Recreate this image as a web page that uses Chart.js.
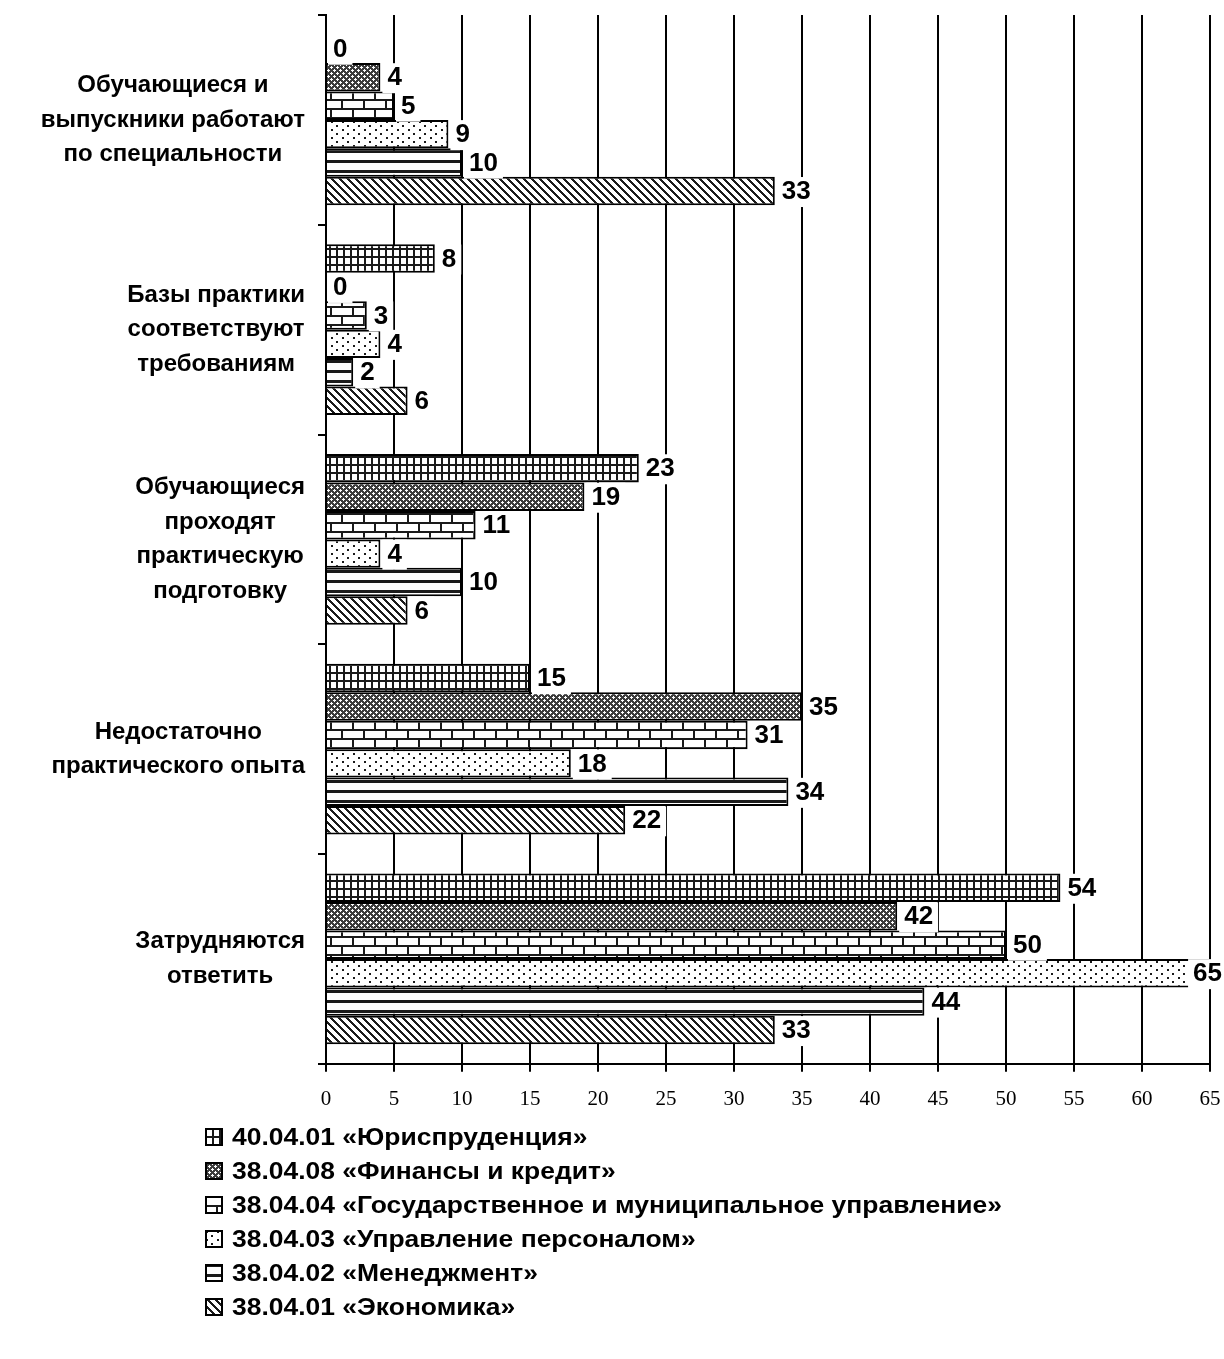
<!DOCTYPE html>
<html><head><meta charset="utf-8">
<script src="https://cdn.jsdelivr.net/npm/chart.js@4"></script>
<style>
body{margin:0;background:#fff;}
#wrap{position:relative;width:1224px;height:1359px;overflow:hidden;}
#c{position:absolute;left:0;top:0;}
#legend{position:absolute;left:205px;top:1120px;font:bold 23px "Liberation Sans",Arial,sans-serif;color:#000;z-index:2;}
.item{display:flex;align-items:center;height:34px;white-space:nowrap;}
.item canvas{margin-right:9px;}
.item span{display:inline-block;transform:scaleX(1.15);transform-origin:left center;}
</style></head>
<body><div id="wrap"><canvas id="c" width="1224" height="1127"></canvas><div id="legend"></div></div>
<script>
// ---- data ----
const categories = [
  ["Обучающиеся и","выпускники работают","по специальности"],
  ["Базы практики","соответствуют","требованиям"],
  ["Обучающиеся","проходят","практическую","подготовку"],
  ["Недостаточно","практического опыта"],
  ["Затрудняются","ответить"]
];
const seriesNames = [
  "40.04.01 «Юриспруденция»",
  "38.04.08 «Финансы и кредит»",
  "38.04.04 «Государственное и муниципальное управление»",
  "38.04.03 «Управление персоналом»",
  "38.04.02 «Менеджмент»",
  "38.04.01 «Экономика»"
];
const law        = [0, 8, 23, 15, 54];
const finance    = [4, 0, 19, 35, 42];
const gmu        = [5, 3, 11, 31, 50];
const personnel  = [9, 4, 4, 18, 65];
const management = [10, 2, 10, 34, 44];
const economics  = [33, 6, 6, 22, 33];
const xTickValues = [0,5,10,15,20,25,30,35,40,45,50,55,60,65];

// ---- patterns ----
const INK = '#1a1a1a';
function makeTile(w,h,draw){
  const c=document.createElement('canvas');c.width=w;c.height=h;
  const g=c.getContext('2d');g.fillStyle='#fff';g.fillRect(0,0,w,h);g.fillStyle=INK;draw(g,w,h);return c;
}
const tiles = [
  makeTile(7,8,g=>{g.fillRect(0,0,7,2);g.fillRect(0,0,2,8);}),
  makeTile(6,6,g=>{g.fillStyle='#3c3c3c';g.fillRect(0,0,6,6);g.fillStyle='#fff';
     [[1,0],[0,1],[1,1],[2,1],[1,2],[4,3],[3,4],[4,4],[5,4],[4,5]].forEach(p=>g.fillRect(p[0],p[1],1,1));}),
  makeTile(22,18,g=>{g.fillRect(0,0,22,2);g.fillRect(0,9,22,2);g.fillRect(0,2,2,7);g.fillRect(11,11,2,7);}),
  makeTile(11,8,g=>{g.fillRect(1,1,2,2);g.fillRect(6,5,2,2);}),
  makeTile(4,10,g=>{g.fillRect(0,0,4,3);}),
  makeTile(8,8,g=>{for(let x=0;x<8;x++)for(let y=0;y<8;y++){if((((x-y)%8)+8)%8<3)g.fillRect(x,y,1,1);}})
];
const canvas=document.getElementById('c');
const ctx=canvas.getContext('2d');
const patterns = tiles.map(t=>ctx.createPattern(t,'repeat'));
const seriesData=[law,finance,gmu,personnel,management,economics];

// ---- plugins ----
const yLabelPlugin = {
  id:'ylabels',
  afterDraw(chart){
    const c=chart.ctx, ys=chart.scales.y;
    c.save();
    c.font='bold 24px "Liberation Sans", Arial, sans-serif';
    c.fillStyle='#000';c.textAlign='center';c.textBaseline='middle';
    categories.forEach((lines,i)=>{
      const cy=ys.getPixelForValue(i);
      const widest=Math.max(...lines.map(l=>c.measureText(l).width));
      const cx=ys.right-21-widest/2;
      const lh=34.5;
      lines.forEach((l,j)=>c.fillText(l,cx,cy+(j-(lines.length-1)/2)*lh));
    });
    c.restore();
  }
};
const valueLabelPlugin = {
  id:'valuelabels',
  afterDatasetsDraw(chart){
    const c=chart.ctx;
    c.save();
    c.font='bold 26px "Liberation Sans", Arial, sans-serif';
    c.textBaseline='middle';c.textAlign='left';
    chart.data.datasets.forEach((ds,di)=>{
      const meta=chart.getDatasetMeta(di);
      meta.data.forEach((bar,i)=>{
        const txt=String(ds.data[i]);
        const w=c.measureText(txt).width;
        let x=bar.x+7;
        if(x+w>chart.width-2)x=chart.width-2-w;
        const y=bar.y+1;
        c.fillStyle='#fff';
        c.fillRect(x-5,y-15,w+10,30);
        c.fillStyle='#000';
        c.fillText(txt,x,y);
      });
    });
    c.restore();
  }
};

new Chart(ctx,{
  type:'bar',
  data:{
    labels:categories,
    datasets:seriesData.map((d,i)=>({
      label:seriesNames[i],data:d,backgroundColor:patterns[i],
      borderColor:'#000',borderWidth:2,borderSkipped:'start',
      categoryPercentage:0.814,barPercentage:1
    }))
  },
  options:{
    indexAxis:'y',responsive:false,animation:false,
    layout:{padding:{top:15,right:14,left:0,bottom:0}},
    plugins:{legend:{display:false},tooltip:{enabled:false}},
    scales:{
      x:{min:0,max:65,
        afterBuildTicks(s){s.ticks=xTickValues.map(v=>({value:v}));},
        afterFit(s){s.paddingRight=0;s.paddingLeft=0;},
        ticks:{color:'#000',padding:15,font:{family:'"Liberation Serif", "Times New Roman", serif',size:21}},
        grid:{color:'#000',lineWidth:2,tickLength:8},
        border:{color:'#000',width:2}
      },
      y:{
        ticks:{display:false},
        grid:{color:'#000',lineWidth:2,tickLength:8,drawOnChartArea:false},
        border:{color:'#000',width:2},
        afterFit(s){s.width=326;}
      }
    }
  },
  plugins:[yLabelPlugin,valueLabelPlugin]
});

// ---- HTML legend ----
const leg=document.getElementById('legend');
seriesNames.forEach((name,i)=>{
  const row=document.createElement('div');row.className='item';
  const sw=document.createElement('canvas');sw.width=18;sw.height=18;
  const g=sw.getContext('2d');
  g.fillStyle=g.createPattern(tiles[i],'repeat');g.fillRect(0,0,18,18);
  g.strokeStyle='#000';g.lineWidth=2;g.strokeRect(1,1,16,16);
  row.appendChild(sw);
  const t=document.createElement('span');t.textContent=name;row.appendChild(t);
  leg.appendChild(row);
});
</script>
</body></html>
